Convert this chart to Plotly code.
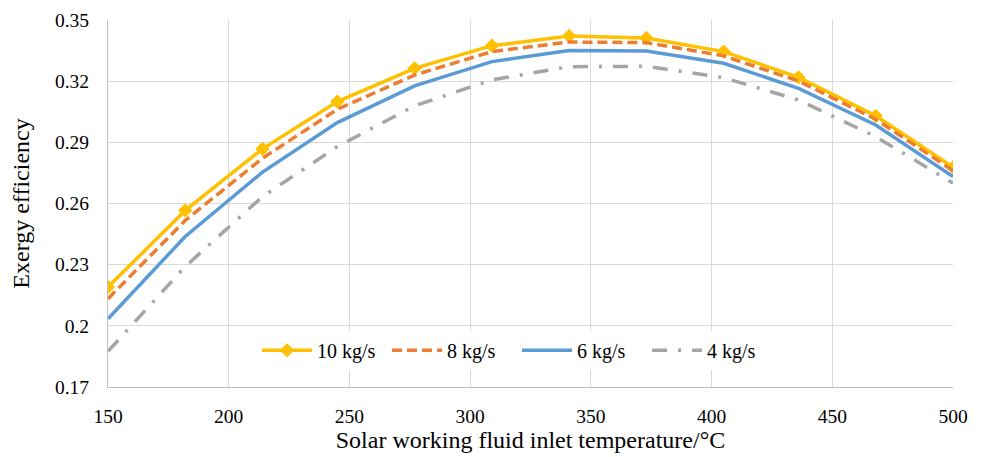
import plotly.graph_objects as go

x_temp = [150, 182, 214, 245, 277, 309, 341, 373, 405, 436, 468, 500]
eff_10 = [0.219, 0.2566, 0.2868, 0.310, 0.3263, 0.3374, 0.3422, 0.3412, 0.3345, 0.3219, 0.3030, 0.2778]
eff_8 = [0.2133, 0.2517, 0.2822, 0.3062, 0.3230, 0.3345, 0.3392, 0.3389, 0.3324, 0.3201, 0.3013, 0.2761]
eff_6 = [0.2035, 0.2438, 0.2754, 0.2997, 0.3177, 0.3296, 0.3350, 0.3348, 0.3288, 0.3165, 0.2985, 0.2732]
eff_4 = [0.1875, 0.2291, 0.2634, 0.2879, 0.3079, 0.3206, 0.3271, 0.3273, 0.3217, 0.3108, 0.2928, 0.2700]
names = ["10 kg/s", "8 kg/s", "6 kg/s", "4 kg/s"]
y_ticks = [0.17, 0.2, 0.23, 0.26, 0.29, 0.32, 0.35]
y_tick_text = ["0.17", "0.2", "0.23", "0.26", "0.29", "0.32", "0.35"]
x_ticks = [150, 200, 250, 300, 350, 400, 450, 500]

font_family = "Liberation Serif, Times New Roman, serif"

fig = go.Figure()
fig.add_trace(go.Scatter(x=x_temp, y=eff_10, name=names[0], mode="lines+markers",
                         line=dict(color="#FFC000", width=3.5),
                         marker=dict(symbol="diamond", size=11, color="#FFC000")))
fig.add_trace(go.Scatter(x=x_temp, y=eff_8, name=names[1], mode="lines",
                         line=dict(color="#ED7D31", width=3.5, dash="10px,5px")))
fig.add_trace(go.Scatter(x=x_temp, y=eff_6, name=names[2], mode="lines",
                         line=dict(color="#5B9BD5", width=3.5)))
fig.add_trace(go.Scatter(x=x_temp, y=eff_4, name=names[3], mode="lines",
                         line=dict(color="#A5A5A5", width=3.5, dash="15px,11px,3px,11px")))

fig.update_layout(
    width=976, height=449,
    margin=dict(l=100, r=31, t=12, b=70, autoexpand=False),
    paper_bgcolor="white", plot_bgcolor="white",
    font=dict(family=font_family, size=19.5, color="black"),
    legend=dict(orientation="h", x=0.484, y=0.1, xanchor="center", yanchor="middle",
                bgcolor="white", font=dict(size=20, family=font_family),
                itemwidth=50, entrywidth=65, entrywidthmode="pixels", traceorder="normal"),
    xaxis=dict(range=[150, 500], tickvals=x_ticks, showgrid=True, gridcolor="#D9D9D9",
               gridwidth=1, showline=True, linecolor="#BFBFBF", linewidth=1, mirror=False,
               zeroline=False, ticks="", tickfont=dict(size=19.5), ticklabelstandoff=12,
               automargin=False,
               title=dict(text="Solar working fluid inlet temperature/°C", font=dict(size=24), standoff=0)),
    yaxis=dict(range=[0.17, 0.35], tickvals=y_ticks, ticktext=y_tick_text, showgrid=True,
               gridcolor="#D9D9D9", gridwidth=1, showline=True, linecolor="#BFBFBF", linewidth=1,
               zeroline=False, ticks="", tickfont=dict(size=19.5), ticklabelstandoff=14,
               automargin=False,
               title=dict(text="Exergy efficiency", font=dict(size=24), standoff=18)),
)

fig.write_html("out.html")
